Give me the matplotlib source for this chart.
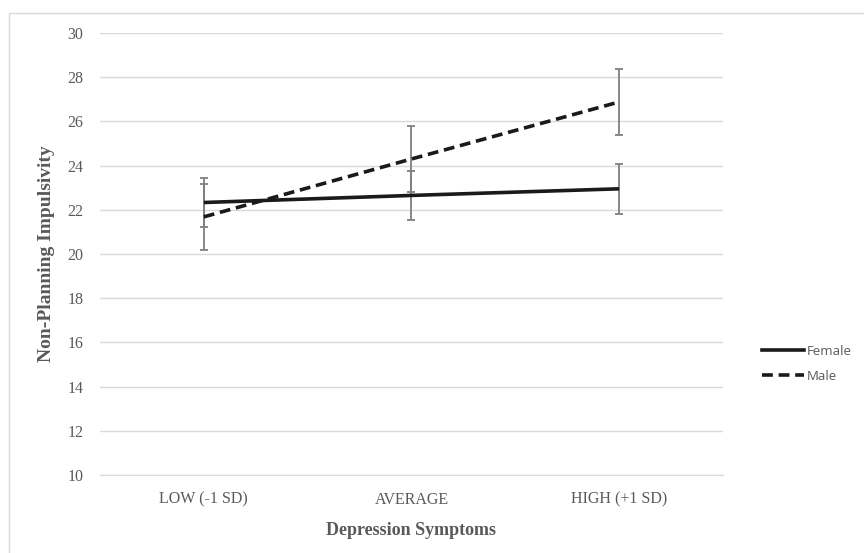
import matplotlib
matplotlib.use("Agg")
import matplotlib.pyplot as plt
from matplotlib.lines import Line2D
from matplotlib.patches import Rectangle

categories = ["LOW (-1 SD)", "AVERAGE", "HIGH (+1 SD)"]
female = [22.33, 22.65, 22.95]
female_err = [1.1, 1.12, 1.14]
male = [21.68, 24.3, 26.88]
male_err = [1.5, 1.5, 1.5]
yticks = [10, 12, 14, 16, 18, 20, 22, 24, 26, 28, 30]

W, H = 864, 553
fig = plt.figure(figsize=(W / 100, H / 100), dpi=100)

# outer chart border (left/top visible)
fig.patches.append(Rectangle((9 / W, -0.1), 1.2, 1 - 13 / H + 0.1, transform=fig.transFigure,
                             fill=False, edgecolor="#d9d9d9", linewidth=1.0))

ax = fig.add_axes([100 / W, 1 - 475 / H, 623 / W, (475 - 33) / H])
x = list(range(len(categories)))

ax.errorbar(x, female, yerr=female_err, fmt="none", ecolor="#7f7f7f", elinewidth=1.3,
            capsize=3.2, capthick=1.3, zorder=3)
ax.errorbar(x, male, yerr=male_err, fmt="none", ecolor="#7f7f7f", elinewidth=1.3,
            capsize=3.2, capthick=1.3, zorder=3)
ax.plot(x, female, color="#1a1a1a", linewidth=2.6, solid_capstyle="butt", zorder=4)
ax.plot(x, male, color="#1a1a1a", linewidth=2.6, linestyle=(0, (3, 1.6)), zorder=4)

ax.set_xlim(-0.5, 2.5)
ax.set_ylim(10, 30)
ax.set_yticks(yticks)
ax.set_xticks(x)
ax.set_xticklabels(categories)
ax.grid(axis="y", color="#d9d9d9", linewidth=1.0)
ax.set_axisbelow(True)
for s in ["top", "right", "left"]:
    ax.spines[s].set_visible(False)
ax.spines["bottom"].set_color("#d9d9d9")
ax.tick_params(axis="both", length=0, labelcolor="#595959", labelsize=11.5)
ax.tick_params(axis="x", pad=12)
ax.tick_params(axis="y", pad=12)
for lab in ax.get_xticklabels() + ax.get_yticklabels():
    lab.set_fontfamily("Liberation Serif")

ax.set_ylabel("Non-Planning Impulsivity", fontfamily="Liberation Serif", fontweight="bold",
              fontsize=14, color="#595959", labelpad=9)
ax.set_xlabel("Depression Symptoms", fontfamily="Liberation Serif", fontweight="bold",
              fontsize=13, color="#595959", labelpad=10)

handles = [Line2D([0], [0], color="#1a1a1a", linewidth=2.6),
           Line2D([0], [0], color="#1a1a1a", linewidth=2.6, linestyle=(0, (3, 1.6)))]
leg = fig.legend(handles, ["Female", "Male"], loc="center left",
                 bbox_to_anchor=(750 / W, 1 - 364 / H), frameon=False,
                 prop={"family": "Open Sans", "size": 9.5}, labelcolor="#595959",
                 handlelength=3.2, handletextpad=0.2, labelspacing=0.9)

fig.savefig("out.png", dpi=100)
